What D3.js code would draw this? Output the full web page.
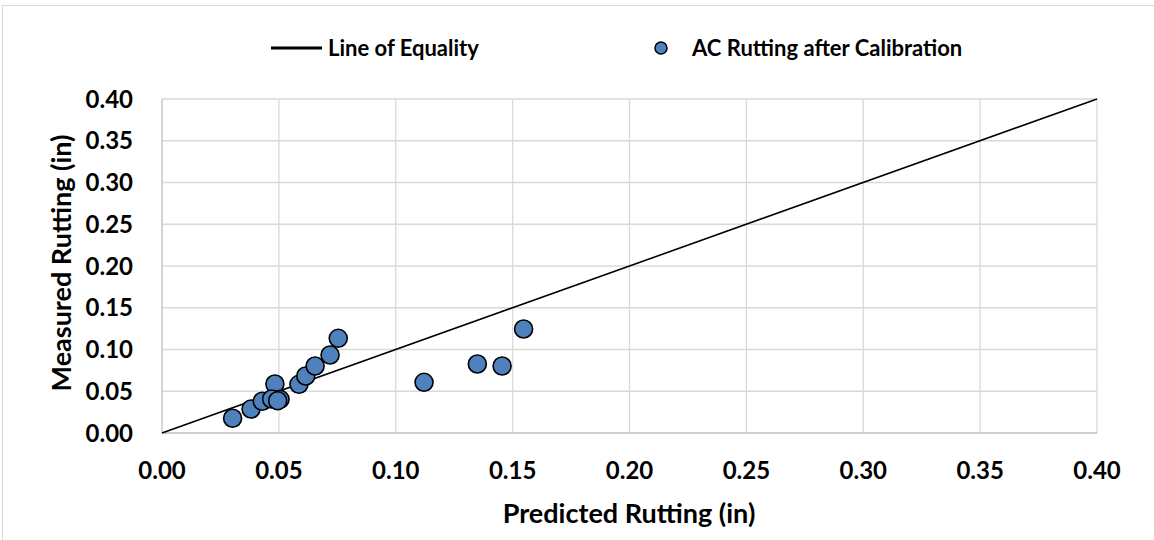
<!DOCTYPE html>
<meta charset="utf-8">
<script src="https://d3js.org/d3.v7.min.js"></script>
<html>
<head>
<style>
body { margin: 0; background: #fff; }
text { font-family: Lato, "Open Sans", sans-serif; font-weight: bold; fill: #000; }
</style>
</head>
<body>
<svg id="chart" width="1154" height="540"></svg>
<script>

// Data
var predicted = [0.0302, 0.0381, 0.0429, 0.0483, 0.0469, 0.0505, 0.0495, 0.0586, 0.0615, 0.0655, 0.0719, 0.0754, 0.1121, 0.1349, 0.1455, 0.1547];
var measured  = [0.0176, 0.0287, 0.0380, 0.0587, 0.0407, 0.0403, 0.0387, 0.0583, 0.0683, 0.0802, 0.0934, 0.1134, 0.0607, 0.0826, 0.0802, 0.1246];
var equality = [0, 0.4];
var ticks = [0, 0.05, 0.1, 0.15, 0.2, 0.25, 0.3, 0.35, 0.4];

var svg = d3.select("#chart");

// outer chart border (right side runs past the picture)
svg.append("rect")
  .attr("x", 2.5).attr("y", 5.5).attr("width", 1160).attr("height", 540)
  .attr("fill", "none").attr("stroke", "#d9d9d9");

var x = d3.scaleLinear().domain([0, 0.4]).range([162, 1097]);
var y = d3.scaleLinear().domain([0, 0.4]).range([433, 99]);

// grid
svg.append("g").selectAll("line").data(ticks.slice(1)).enter().append("line")
  .attr("x1", function(d){ return x(d); }).attr("x2", function(d){ return x(d); })
  .attr("y1", y(0)).attr("y2", y(0.4))
  .attr("stroke", "#d9d9d9").attr("stroke-width", 1.3);
svg.append("g").selectAll("line").data(ticks.slice(1)).enter().append("line")
  .attr("x1", x(0)).attr("x2", x(0.4))
  .attr("y1", function(d){ return y(d); }).attr("y2", function(d){ return y(d); })
  .attr("stroke", "#d9d9d9").attr("stroke-width", 1.3);

// axis lines
svg.append("line").attr("x1", x(0)).attr("x2", x(0)).attr("y1", y(0)).attr("y2", y(0.4))
  .attr("stroke", "#bfbfbf").attr("stroke-width", 1.3);
svg.append("line").attr("x1", x(0)).attr("x2", x(0.4)).attr("y1", y(0)).attr("y2", y(0))
  .attr("stroke", "#bfbfbf").attr("stroke-width", 1.3);

// tick labels
svg.append("g").selectAll("text").data(ticks).enter().append("text")
  .attr("x", 133).attr("y", function(d){ return y(d) + 8.5; })
  .attr("text-anchor", "end").attr("font-size", 24)
  .text(function(d){ return d.toFixed(2); });
svg.append("g").selectAll("text").data(ticks).enter().append("text")
  .attr("x", function(d){ return x(d); }).attr("y", 479)
  .attr("text-anchor", "middle").attr("font-size", 24)
  .text(function(d){ return d.toFixed(2); });

// axis titles
svg.append("text").attr("x", 629).attr("y", 523).attr("text-anchor", "middle")
  .attr("font-size", 27).text("Predicted Rutting (in)");
svg.append("text").attr("transform", "translate(71,263) rotate(-90)")
  .attr("text-anchor", "middle").attr("font-size", 27).text("Measured Rutting (in)");

// line of equality
svg.append("path").datum(equality)
  .attr("d", d3.line().x(function(d){ return x(d); }).y(function(d){ return y(d); }))
  .attr("stroke", "#000").attr("stroke-width", 1.6).attr("fill", "none");

// points
svg.append("g").selectAll("circle").data(predicted).enter().append("circle")
  .attr("cx", function(d){ return x(d); })
  .attr("cy", function(d, i){ return y(measured[i]); })
  .attr("r", 9)
  .attr("fill", "#4f81bd").attr("stroke", "#000").attr("stroke-width", 1.6);

// legend
svg.append("line").attr("x1", 271).attr("x2", 322).attr("y1", 48).attr("y2", 48)
  .attr("stroke", "#000").attr("stroke-width", 3);
svg.append("text").attr("x", 328).attr("y", 55.5).attr("font-size", 22).text("Line of Equality");
svg.append("circle").attr("cx", 661).attr("cy", 48).attr("r", 6)
  .attr("fill", "#4f81bd").attr("stroke", "#000").attr("stroke-width", 1.5);
svg.append("text").attr("x", 692).attr("y", 55.5).attr("font-size", 22).text("AC Rutting after Calibration");

</script>
</body>
</html>
